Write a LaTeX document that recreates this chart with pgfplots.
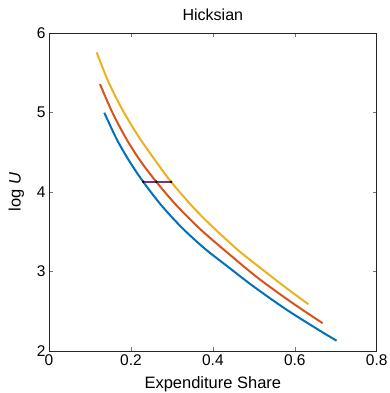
\documentclass[border=0pt]{standalone}
\usepackage{pgfplots}
\pgfplotsset{compat=1.18}
\usepackage{fontspec}
\setmainfont{Liberation Sans}
\definecolor{mblue}{rgb}{0,0.447,0.741}
\definecolor{mred}{rgb}{0.85,0.325,0.098}
\definecolor{myellow}{rgb}{0.929,0.694,0.125}
\definecolor{mpurple}{rgb}{0.494,0.184,0.556}
\begin{document}
\begin{tikzpicture}
\path[use as bounding box] (-49pt,-42pt) rectangle (340pt,351pt);
\begin{axis}[
  scale only axis, width=327.7pt, height=317.7pt,
  at={(0,0)}, anchor=south west,
  xmin=0, xmax=0.8, ymin=2, ymax=6,
  xtick={0,0.2,0.4,0.6,0.8}, ytick={2,3,4,5,6},
  xticklabels={0,0.2,0.4,0.6,0.8},
  tick align=inside,
  major tick length=4pt,
  axis line style={draw=black!85, line width=0.6pt},
  every tick/.style={draw=black!55, line width=0.5pt},
  ticklabel style={font=\fontsize{15.5}{18}\selectfont},
  /pgf/number format/assume math mode=true,
  title={Hicksian},
  every axis title/.style={at={(axis description cs:0.5,1)}, anchor=base, yshift=12.6pt, font=\fontsize{16}{19}\selectfont},
  xlabel={Expenditure Share},
  every axis x label/.style={at={(axis description cs:0.5,0)}, anchor=base, yshift=-37pt, font=\fontsize{16.5}{19}\selectfont},
  ylabel={log \textit{U}},
  every axis y label/.style={at={([xshift=-28.3pt]axis description cs:0,0.5)}, rotate=90, anchor=base, font=\fontsize{16.5}{19}\selectfont},
]
\addplot[mblue, line width=2pt, smooth] coordinates {
(0.135,5.00) (0.165,4.67) (0.195,4.40) (0.230,4.13) (0.275,3.83) (0.325,3.55)
(0.380,3.29) (0.442,3.04) (0.500,2.81) (0.580,2.52) (0.660,2.26) (0.702,2.13)
};
\addplot[mred, line width=2pt, smooth] coordinates {
(0.1245,5.36) (0.155,5.00) (0.190,4.66) (0.225,4.38) (0.262,4.13) (0.310,3.84)
(0.370,3.53) (0.442,3.21) (0.510,2.92) (0.590,2.62) (0.668,2.35)
};
\addplot[myellow, line width=2pt, smooth] coordinates {
(0.1164,5.76) (0.145,5.39) (0.180,5.03) (0.220,4.69) (0.258,4.41) (0.298,4.13)
(0.350,3.82) (0.400,3.56) (0.4616,3.27) (0.520,3.03) (0.580,2.79) (0.633,2.59)
};
\addplot[mpurple, line width=1.8pt] coordinates {(0.230,4.13) (0.298,4.13)};
\addplot[only marks, mark=*, mark size=1.1pt, black] coordinates {(0.230,4.13) (0.262,4.13) (0.298,4.13)};
\end{axis}
\end{tikzpicture}
\end{document}
